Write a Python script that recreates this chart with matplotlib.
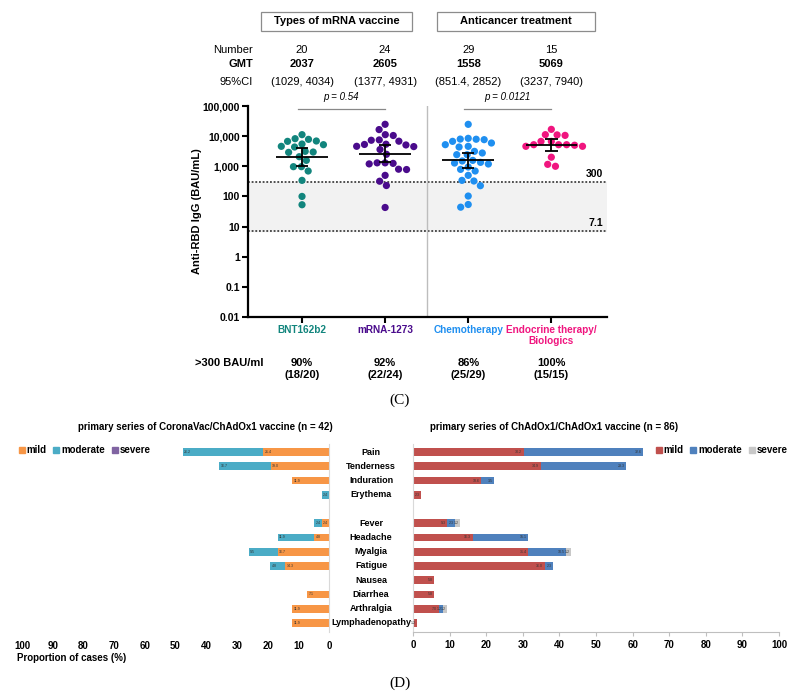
import numpy as np
import matplotlib
matplotlib.use('Agg')
import matplotlib.pyplot as plt
from matplotlib.lines import Line2D
from matplotlib.patches import Rectangle
from matplotlib.transforms import blended_transform_factory

plt.rcParams['font.family'] = ['Liberation Sans', 'DejaVu Sans']

# ---- panel C: anti-RBD IgG after mRNA booster
groups = ['BNT162b2', 'mRNA-1273', 'Chemotherapy', 'Endocrine therapy/\nBiologics']
group_colors = ['#12857d', '#4a0b8c', '#1f8ff0', '#f0157f']
group_n = [20, 24, 29, 15]
gmt = [2037, 2605, 1558, 5069]
ci_low = [1029, 1377, 851.4, 3237]
ci_high = [4034, 4931, 2852, 7940]
ci_text = ['(1029, 4034)', '(1377, 4931)', '(851.4, 2852)', '(3237, 7940)']
above_pct = ['90%', '92%', '86%', '100%']
above_frac = ['(18/20)', '(22/24)', '(25/29)', '(15/15)']
p_values = ['p = 0.54', 'p = 0.0121']

bnt = [11200, 8240, 7830, 6900, 6720, 5480, 5210, 4590, 4360, 3130,
       2970, 2900, 2080, 1570, 970, 970, 697, 341, 100, 53]
mrna = [24700, 16500, 11200, 10500, 7300, 6800, 7500, 5400, 5300, 5100,
        4600, 4500, 3600, 2500, 1300, 1250, 1300, 1200, 800, 780,
        500, 320, 230, 43]
chemo = [24650, 8460, 7980, 7640, 7900, 6720, 5920, 5210, 4590, 4360,
         3130, 2760, 2430, 2430, 1570, 1500, 1350, 1280, 1190, 946,
         790, 697, 500, 341, 325, 227, 103, 54, 44]
endo = [16800, 11200, 11000, 10600, 6700, 6700, 5200, 5200, 5200, 5000,
        4600, 4600, 2000, 1160, 1000]
values = [bnt, mrna, chemo, endo]

y_ticks = [0.01, 0.1, 1, 10, 100, 1000, 10000, 100000]
y_ticklabels = ['0.01', '0.1', '1', '10', '100', '1,000', '10,000', '100,000']
cutoffs = [300, 7.1]

# ---- panel D: adverse events after booster
symptoms = ['Pain', 'Tenderness', 'Induration', 'Erythema', '',
            'Fever', 'Headache', 'Myalgia', 'Fatigue', 'Nausea',
            'Diarrhea', 'Arthralgia', 'Lymphadenopathy']
cv_mild = [21.4, 19.0, 11.9, 0, 0, 2.4, 4.8, 16.7, 14.3, 0, 7.1, 11.9, 11.9]
cv_moderate = [26.2, 16.7, 0, 2.4, 0, 2.4, 11.9, 9.5, 4.8, 0, 0, 0, 0]
cv_severe = [0] * 13
az_mild = [30.2, 34.9, 18.6, 2.3, 0, 9.3, 16.3, 31.4, 36.0, 5.8, 5.8, 7.0, 1.2]
az_moderate = [32.6, 23.3, 3.5, 0, 0, 2.3, 15.1, 10.5, 2.3, 0, 0, 1.2, 0]
az_severe = [0, 0, 0, 0, 0, 1.2, 0, 1.2, 0, 0, 0, 1.2, 0]
severity = ['mild', 'moderate', 'severe']
cv_colors = ['#f79646', '#4bacc6', '#8064a2']
az_colors = ['#c0504d', '#4f81bd', '#c8c8c8']

W, H = 797, 698
fig = plt.figure(figsize=(W / 100, H / 100), dpi=100)


def fbox(l, t, r, b):
    return [l / W, 1 - b / H, (r - l) / W, (b - t) / H]


def swarm(vals, px_x, px_dec, d=8.0):
    # beeswarm: put each dot as close to the centre as it goes without overlap
    ys = np.log10(vals) * px_dec
    placed_x, placed_y = [], []
    xs = np.zeros(len(vals))
    for i in np.argsort(vals)[::-1]:
        y = ys[i]
        cands = [0.0]
        for px, py in zip(placed_x, placed_y):
            dy = abs(py - y)
            if dy < d:
                dx = np.sqrt(d * d - dy * dy)
                cands += [px - dx, px + dx]
        cands.sort(key=abs)
        for cx in cands:
            if all((cx - px) ** 2 + (y - py) ** 2 >= d * d - 1e-6 for px, py in zip(placed_x, placed_y)):
                break
        placed_x.append(cx)
        placed_y.append(y)
        xs[i] = cx / px_x
    return xs


ax = fig.add_axes(fbox(248, 106, 607, 317))
ax.set_yscale('log')
ax.set_ylim(0.01, 1e5)
ax.set_xlim(-0.65, 3.67)
ax.axhspan(cutoffs[1], cutoffs[0], color='#f2f2f2', zorder=0)
for c in cutoffs:
    ax.axhline(c, color='#222222', ls=(0, (1.2, 1.2)), lw=1.1, zorder=1)
    ax.text(3.62, c * 1.25, ('%g' % c), ha='right', va='bottom', fontsize=7.5, fontweight='bold')
ax.plot([1.5, 1.5], [0.01, 1e5], color='#bdbdbd', lw=1, zorder=1)

px_x = (607 - 248) / 4.32
px_dec = (317 - 106) / 7.0
for i, vals in enumerate(values):
    xs = swarm(vals, px_x, px_dec) + i
    ax.scatter(xs, vals, s=27, color=group_colors[i], edgecolors='none', zorder=2)
    ax.hlines(gmt[i], i - 0.31, i + 0.31, color='black', lw=1.3, zorder=3)
    ax.vlines(i, ci_low[i], ci_high[i], color='black', lw=1.3, zorder=3)
    ax.hlines([ci_low[i], ci_high[i]], i - 0.075, i + 0.075, color='black', lw=1.3, zorder=3)

for j, p in enumerate(p_values):
    x0, x1 = 2 * j - 0.05, 2 * j + 1.0
    ax.plot([x0, x1], [8e4, 8e4], color='#888888', lw=0.9, clip_on=False)
    ax.text((x0 + x1) / 2, 1.35e5, p, ha='center', va='bottom', fontsize=7, style='italic', clip_on=False)

ax.set_yticks(y_ticks)
ax.set_yticklabels(y_ticklabels, fontsize=7.5, fontweight='bold')
ax.yaxis.set_minor_locator(matplotlib.ticker.NullLocator())
ax.set_xticks(range(4))
ax.set_xticklabels(groups, fontsize=7.2, fontweight='bold', linespacing=1.1)
for lab, c in zip(ax.get_xticklabels(), group_colors):
    lab.set_color(c)
ax.tick_params(axis='both', width=1.5, length=4, pad=2)
for s in ['top', 'right']:
    ax.spines[s].set_visible(False)
for s in ['left', 'bottom']:
    ax.spines[s].set_linewidth(1.6)
ax.set_ylabel('Anti-RBD IgG (BAU/mL)', fontsize=8, fontweight='bold')
ax.yaxis.set_label_coords(-0.128, 0.5)

tr = blended_transform_factory(ax.transData, ax.transAxes)
ax.text(-0.59, 1.265, 'Number', ha='right', va='center', fontsize=8, transform=tr)
ax.text(-0.59, 1.199, 'GMT', ha='right', va='center', fontsize=8, fontweight='bold', transform=tr)
ax.text(-0.59, 1.114, '95%CI', ha='right', va='center', fontsize=8, transform=tr)
ax.text(-0.87, -0.218, '>300 BAU/ml', ha='center', va='center', fontsize=8, fontweight='bold', transform=tr)
for i in range(4):
    ax.text(i, 1.265, str(group_n[i]), ha='center', va='center', fontsize=8, transform=tr)
    ax.text(i, 1.199, str(gmt[i]), ha='center', va='center', fontsize=8, fontweight='bold', transform=tr)
    ax.text(i, 1.114, ci_text[i], ha='center', va='center', fontsize=8, transform=tr)
    ax.text(i, -0.218, above_pct[i], ha='center', va='center', fontsize=8, fontweight='bold', transform=tr)
    ax.text(i, -0.275, above_frac[i], ha='center', va='center', fontsize=8, fontweight='bold', transform=tr)

for (l, r), label in zip([(261, 412), (437, 595)], ['Types of mRNA vaccine', 'Anticancer treatment']):
    fig.add_artist(Rectangle((l / W, 1 - 31 / H), (r - l) / W, 19 / H, transform=fig.transFigure,
                             fill=False, edgecolor='#8c8c8c', lw=0.9))
    fig.text((l + r) / 2 / W, 1 - 21.5 / H, label, ha='center', va='center', fontsize=8, fontweight='bold')

fig.text(400 / W, 1 - 400 / H, '(C)', ha='center', va='center', fontsize=11, family='Liberation Serif')
fig.text(400 / W, 1 - 683 / H, '(D)', ha='center', va='center', fontsize=11, family='Liberation Serif')

# ---- panel D
rows = np.arange(len(symptoms))
ax_l = fig.add_axes(fbox(22, 443.5, 329, 631.5))
ax_r = fig.add_axes(fbox(413, 443.5, 779, 631.5))
for a, series, colors, flip in [(ax_l, [cv_mild, cv_moderate, cv_severe], cv_colors, True),
                                 (ax_r, [az_mild, az_moderate, az_severe], az_colors, False)]:
    left = np.zeros(len(rows))
    for vals, c in zip(series, colors):
        vals = np.array(vals, dtype=float)
        a.barh(rows, vals, left=left, height=0.55, color=c, edgecolor='none')
        for y, (s0, v) in enumerate(zip(left, vals)):
            if v > 0:
                a.text(s0 + v - 0.4, y, '%.1f' % v, ha='left' if flip else 'right', va='center',
                       fontsize=2.6, color='#333333')
        left += vals
    a.set_ylim(12.6, -0.6)
    a.set_xlim((100, 0) if flip else (0, 100))
    a.set_xticks(range(0, 101, 10))
    a.set_xticklabels([str(t) for t in range(0, 101, 10)], fontsize=7, fontweight='bold')
    a.set_yticks([])
    for s in a.spines.values():
        s.set_visible(False)

ax_l.tick_params(axis='x', length=0, pad=7)
ax_l.spines['right'].set_visible(True)
ax_l.spines['right'].set_color('#d9d9d9')
ax_r.tick_params(axis='x', length=3, color='#bfbfbf', pad=3)
ax_r.spines['left'].set_visible(True)
ax_r.spines['left'].set_color('#d9d9d9')
ax_r.spines['bottom'].set_visible(True)
ax_r.spines['bottom'].set_color('#bfbfbf')

trs = blended_transform_factory(fig.transFigure, ax_r.transData)
for y, name in enumerate(symptoms):
    fig.text(371 / W, y, name, ha='center', va='center', fontsize=6.5, fontweight='bold', transform=trs)

fig.text(17 / W, 1 - 658 / H, 'Proportion of cases (%)', ha='left', va='center', fontsize=7, fontweight='bold')
fig.text(205 / W, 1 - 427 / H, 'primary series of CoronaVac/ChAdOx1 vaccine (n = 42)',
         ha='center', va='center', fontsize=7, fontweight='bold')
fig.text(554 / W, 1 - 427 / H, 'primary series of ChAdOx1/ChAdOx1 vaccine (n = 86)',
         ha='center', va='center', fontsize=7, fontweight='bold')

for colors, x0 in [(cv_colors, 18), (az_colors, 655)]:
    handles = [Line2D([], [], ls='', marker='s', ms=4, color=c) for c in colors]
    fig.legend(handles, severity, loc='center left', bbox_to_anchor=(x0 / W, 1 - 450 / H), ncol=3,
               frameon=False, prop={'weight': 'bold', 'size': 7}, handletextpad=0.1,
               columnspacing=0.6, handlelength=0.8, borderaxespad=0, borderpad=0)

fig.savefig('out.png', dpi=100)
